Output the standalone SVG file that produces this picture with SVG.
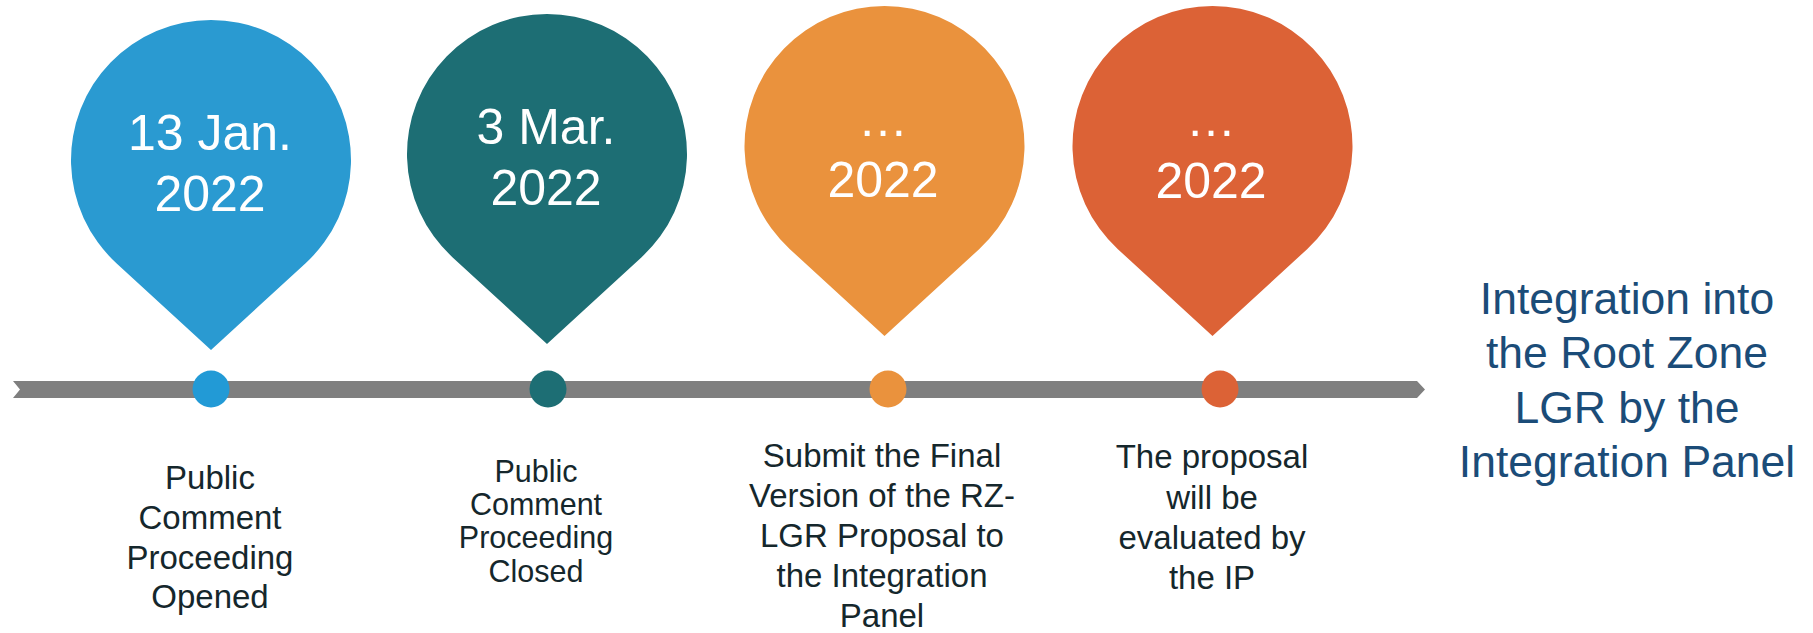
<svg xmlns="http://www.w3.org/2000/svg" width="1813" height="633" viewBox="0 0 1813 633">
<style>
.date{font-family:"Liberation Sans",Arial,sans-serif;font-size:50px;fill:#ffffff;text-anchor:middle}
.lbl{font-family:"Liberation Sans",Arial,sans-serif;font-size:33px;fill:#15272c;text-anchor:middle}
.lbl2{font-family:"Liberation Sans",Arial,sans-serif;font-size:30.5px;fill:#15272c;text-anchor:middle}
.final{font-family:"Liberation Sans",Arial,sans-serif;font-size:44.5px;fill:#1b4c78;text-anchor:middle}
</style>
<rect width="1813" height="633" fill="#ffffff"/>
<g id="connectors">
<polygon points="13,381 1417,381 1425,389.5 1417,398 13,398 20,389.5" fill="#7f7f7f"/>
</g>
<g id="pin1">
<path d="M211,350 L116.4,263.2 A140,140 0 1 1 305.6,263.2 Z" fill="#2a9ad1"/>
<text class="date" x="210" y="150">13 Jan.</text>
<text class="date" x="210" y="211">2022</text>
</g>
<g id="pin2">
<path d="M547,344 L452.4,257.2 A140,140 0 1 1 641.6,257.2 Z" fill="#1d6e74"/>
<text class="date" x="546" y="144">3 Mar.</text>
<text class="date" x="546" y="205">2022</text>
</g>
<g id="pin3">
<path d="M884.5,336 L789.9,249.2 A140,140 0 1 1 979.1,249.2 Z" fill="#ea923d"/>
<text class="date" x="883" y="136">…</text>
<text class="date" x="883" y="197">2022</text>
</g>
<g id="pin4">
<path d="M1212.5,336 L1117.9,249.2 A140,140 0 1 1 1307.1,249.2 Z" fill="#dc6236"/>
<text class="date" x="1211" y="136">…</text>
<text class="date" x="1211" y="198">2022</text>
</g>
<g id="dot1"><circle cx="211" cy="389" r="18.5" fill="#229ad6"/></g>
<g id="dot2"><circle cx="548" cy="389" r="18.5" fill="#1d6e74"/></g>
<g id="dot3"><circle cx="888" cy="389" r="18.5" fill="#ea923d"/></g>
<g id="dot4"><circle cx="1220" cy="389" r="18.5" fill="#dc6236"/></g>
<g id="label1">
<text class="lbl" x="210" y="489">Public</text>
<text class="lbl" x="210" y="529">Comment</text>
<text class="lbl" x="210" y="569">Proceeding</text>
<text class="lbl" x="210" y="608">Opened</text>
</g>
<g id="label2">
<text class="lbl2" x="536" y="482">Public</text>
<text class="lbl2" x="536" y="515">Comment</text>
<text class="lbl2" x="536" y="548">Proceeding</text>
<text class="lbl2" x="536" y="582">Closed</text>
</g>
<g id="label3">
<text class="lbl" x="882" y="467">Submit the Final</text>
<text class="lbl" x="882" y="507">Version of the RZ-</text>
<text class="lbl" x="882" y="547">LGR Proposal to</text>
<text class="lbl" x="882" y="587">the Integration</text>
<text class="lbl" x="882" y="627">Panel</text>
</g>
<g id="label4">
<text class="lbl" x="1212" y="468">The proposal</text>
<text class="lbl" x="1212" y="509">will be</text>
<text class="lbl" x="1212" y="549">evaluated by</text>
<text class="lbl" x="1212" y="589">the IP</text>
</g>
<g id="final">
<text class="final" x="1627" y="314">Integration into</text>
<text class="final" x="1627" y="368">the Root Zone</text>
<text class="final" x="1627" y="423">LGR by the</text>
<text class="final" x="1627" y="477">Integration Panel</text>
</g>
</svg>
